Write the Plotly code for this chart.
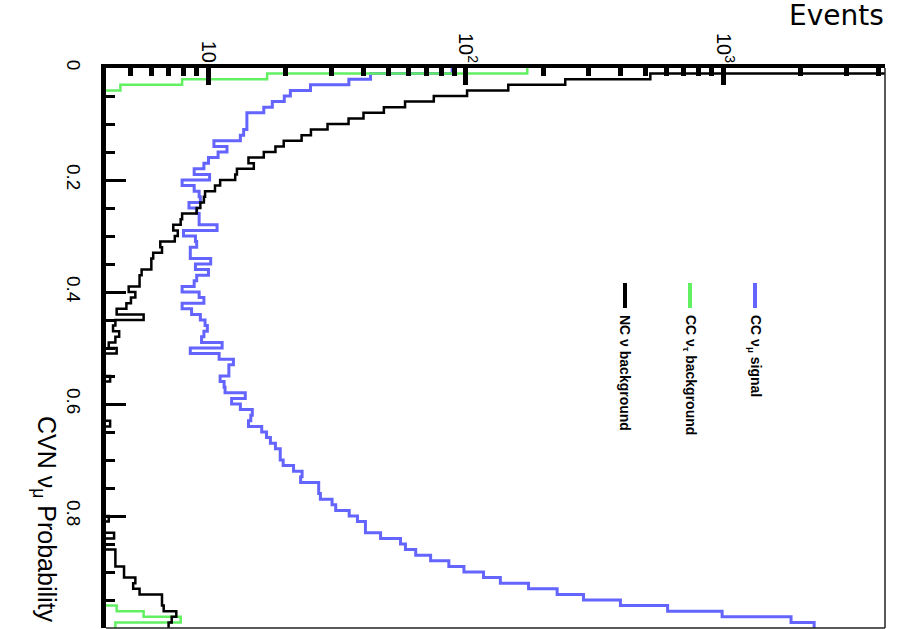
import numpy as np
import plotly.graph_objects as go

# ---- histogram data: 100 bins of CVN nu_mu probability, 0 -> 1 ----
n_bins = 100
bin_edges = np.linspace(0.0, 1.0, n_bins + 1)

cc_numu_signal = [
    88.4, 42.6, 35.1, 24.9, 20.8, 19.7, 17.7, 16.4, 14.1, 14.1,
    14.1, 13.7, 13.3, 10.5, 11.8, 10.9, 10.0, 9.6, 8.8, 10.1,
    7.9, 8.8, 9.2, 9.3, 8.4, 9.0, 9.2, 9.2, 10.8, 8.0,
    8.9, 9.0, 8.5, 8.5, 10.2, 8.9, 10.0, 9.0, 8.8, 7.9,
    9.2, 9.6, 7.9, 8.6, 9.3, 9.7, 9.9, 9.6, 9.4, 11.3,
    8.5, 11.0, 12.5, 12.0, 12.0, 11.1, 11.5, 11.6, 13.9, 12.3,
    13.3, 14.8, 14.6, 14.3, 16.1, 16.8, 17.4, 18.2, 19.0, 19.0,
    19.5, 21.4, 23.1, 22.8, 26.8, 26.8, 27.2, 30.2, 31.2, 35.2,
    37.9, 40.7, 40.7, 46.6, 55.7, 58.2, 63.8, 72.9, 85.8, 98.2,
    117, 136, 175, 226, 286, 398, 607, 988, 1830, 2250,
]

cc_nutau_background = [
    173, 16.9, 7.9, 4.55, 0, 0, 0, 0, 0, 0,
    0, 0, 0, 0, 0, 0, 0, 0, 0, 0,
    0, 0, 0, 0, 0, 0, 0, 0, 0, 0,
    0, 0, 0, 0, 0, 0, 0, 0, 0, 0,
    0, 0, 0, 0, 0, 0, 0, 0, 0, 0,
    0, 0, 0, 0, 0, 0, 0, 0, 0, 0,
    0, 0, 0, 0, 0, 0, 0, 0, 0, 0,
    0, 0, 0, 0, 0, 0, 0, 0, 0, 0,
    0, 0, 0, 0, 0, 0, 0, 0, 0, 0,
    0, 0, 0, 0, 0, 0, 4.4, 5.6, 7.8, 4.35,
]

nc_background = [
    6000, 520, 243, 146, 101, 75, 58, 48, 40, 35,
    29, 25, 23, 19.6, 18.2, 16.4, 14.3, 15.0, 12.9, 12.7,
    11.1, 10.6, 9.7, 9.6, 9.3, 9.0, 7.9, 7.8, 7.3, 7.6,
    7.4, 6.5, 6.6, 6.1, 6.0, 6.0, 5.5, 5.4, 5.4, 4.9,
    5.2, 5.0, 4.8, 4.4, 5.6, 4.35, 4.26, 4.5, 4.35, 4.1,
    4.4, 0, 0, 0, 0, 4.15, 0, 0, 0, 0,
    0, 0, 0, 4.15, 0, 0, 0, 0, 0, 0,
    0, 0, 0, 0, 0, 0, 0, 0, 0, 0,
    4.1, 0, 0, 4.3, 0, 0, 4.35, 4.35, 4.35, 4.7,
    4.7, 5.2, 5.1, 5.4, 6.6, 6.6, 6.7, 7.5, 7.2, 7.0,
]

series_names = ["CC ν<sub>μ</sub> signal",
                "CC ν<sub>τ</sub> background",
                "NC ν background"]
series_counts = [cc_numu_signal, cc_nutau_background, nc_background]
series_colors = ["#6464ff", "#62f062", "#000000"]
series_widths = [3, 2.5, 2.5]

# ---- axes ----
events_range = (4.0, 4240.0)
events_ticks = [10, 100, 1000]
events_ticklabels = ["10", "10<sup>2</sup>", "10<sup>3</sup>"]
events_minor = ([5, 6, 7, 8, 9] + [20, 30, 40, 50, 60, 70, 80, 90]
                + [200, 300, 400, 500, 600, 700, 800, 900] + [2000, 3000, 4000])
prob_ticks = [0, 0.2, 0.4, 0.6, 0.8, 1.0]
prob_ticklabels = ["0", "0.2", "0.4", "0.6", "0.8", "1"]

W, H = 897, 629
PL, PT, PR, PB = 106, 68, 12, 1
PW, PH = W - PL - PR, H - PT - PB


def paper_x(px):
    return (px - PL) / PW


def paper_y(py):
    return 1 - (py - PT) / PH


def outline(counts, floor=1.0):
    """Histogram outline turned on its side: count on x, probability on y."""
    c = np.asarray(counts, dtype=float)
    c = np.where(c > 0, c, floor)  # empty bins drop below the axis
    return np.append(c, c[-1]), bin_edges


fig = go.Figure()
for name, counts, color, width in zip(series_names, series_counts,
                                      series_colors, series_widths):
    xs, ys = outline(counts)
    fig.add_trace(go.Scatter(x=xs, y=ys, mode="lines", name=name,
                             line=dict(color=color, width=width, shape="vh"),
                             hoverinfo="skip"))

FONT = "Liberation Sans, Arial, sans-serif"

fig.update_layout(
    width=W, height=H,
    margin=dict(l=PL, r=PR, t=PT, b=PB, pad=0),
    plot_bgcolor="white", paper_bgcolor="white",
    showlegend=False,
    font=dict(family=FONT, color="black"),
)

fig.update_xaxes(
    type="log", side="top",
    range=[np.log10(events_range[0]), np.log10(events_range[1])],
    tickvals=events_ticks, ticktext=events_ticklabels,
    ticks="inside", ticklen=17, tickwidth=5, tickcolor="black",
    tickangle=90, tickfont=dict(size=20, family=FONT),
    ticklabelstandoff=-6,
    showline=True, linewidth=4, linecolor="black",
    showgrid=False, zeroline=False,
    minor=dict(tickvals=events_minor, ticks="inside", ticklen=8,
               tickwidth=5, tickcolor="black", showgrid=False),
)

fig.update_yaxes(
    range=[1.0, 0.0],
    tickvals=prob_ticks, ticktext=prob_ticklabels,
    ticks="inside", ticklen=20, tickwidth=3, tickcolor="black",
    tickangle=90, tickfont=dict(size=19, family=FONT),
    ticklabelstandoff=11,
    showline=True, linewidth=5, linecolor="black",
    showgrid=False, zeroline=False,
    minor=dict(dtick=0.05, tick0=0, ticks="inside", ticklen=9,
               tickwidth=3, tickcolor="black", showgrid=False),
)

# thin frame on the far sides
fig.add_shape(type="line", xref="paper", yref="paper", x0=1, x1=1, y0=0, y1=1,
              line=dict(color="#222222", width=1.5))
fig.add_shape(type="line", xref="paper", yref="paper", x0=0, x1=1, y0=0, y1=0,
              line=dict(color="#222222", width=1.5))

# axis titles
fig.add_annotation(text="Events", xref="paper", yref="paper",
                   x=paper_x(886), y=paper_y(15), xanchor="right", yanchor="middle",
                   showarrow=False,
                   font=dict(size=28, family="DejaVu Sans, sans-serif", color="black"))
fig.add_annotation(text="CVN ν<sub>μ</sub> Probability", xref="paper", yref="paper",
                   x=paper_x(45), y=paper_y(414), xanchor="center", yanchor="top",
                   textangle=90, showarrow=False,
                   font=dict(size=25, family=FONT, color="black"))

# legend: swatch + rotated label for each series
legend_x = [755, 690, 625]
for name, color, lx in zip(series_names, series_colors, legend_x):
    fig.add_shape(type="line", xref="paper", yref="paper",
                  x0=paper_x(lx), x1=paper_x(lx), y0=paper_y(283), y1=paper_y(308),
                  line=dict(color=color, width=4))
    fig.add_annotation(text="<b>" + name + "</b>", xref="paper", yref="paper",
                       x=paper_x(lx), y=paper_y(313), xanchor="center", yanchor="top",
                       textangle=90, showarrow=False,
                       font=dict(size=14, family=FONT, color="black"))

fig.write_html("out.html")
